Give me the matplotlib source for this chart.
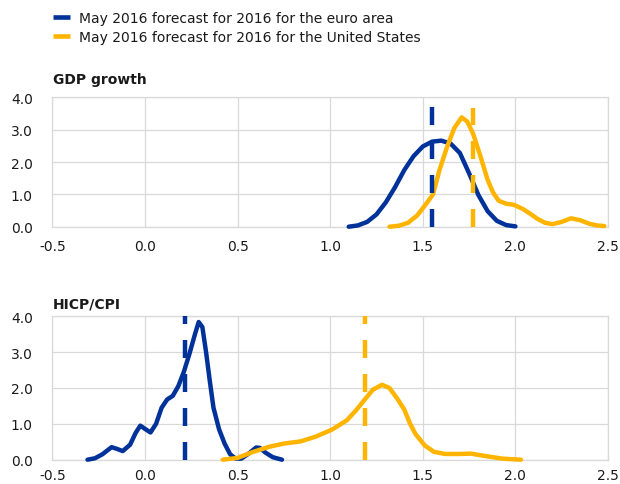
"""May 2016 forecast distributions for 2016: euro area vs United States.

Two stacked density panels (GDP growth, HICP/CPI) with the forecast
means drawn as dashed vertical lines.
"""

import matplotlib

matplotlib.use("Agg")

import matplotlib.pyplot as plt
from matplotlib.lines import Line2D


OUTPUT_PATH = "out.png"

BLUE = "#003299"
YELLOW = "#FFB400"
GRID = "#d9d9d9"
TEXT = "#1a1a1a"

LEGEND_LABELS = [
    "May 2016 forecast for 2016 for the euro area",
    "May 2016 forecast for 2016 for the United States",
]

X_TICKS = [-0.5, 0.0, 0.5, 1.0, 1.5, 2.0, 2.5]
Y_TICKS = [0.0, 1.0, 2.0, 3.0, 4.0]

# GDP growth, euro area
gdp_ea_x = [1.10, 1.15, 1.20, 1.25, 1.30, 1.35, 1.40, 1.45, 1.50, 1.55,
            1.60, 1.65, 1.70, 1.75, 1.80, 1.85, 1.90, 1.95, 2.00]
gdp_ea_y = [0.00, 0.04, 0.15, 0.38, 0.75, 1.22, 1.75, 2.18, 2.48, 2.63,
            2.66, 2.57, 2.28, 1.65, 0.98, 0.48, 0.18, 0.05, 0.01]

# GDP growth, United States
gdp_us_x = [1.32, 1.37, 1.42, 1.47, 1.52, 1.555, 1.59, 1.63, 1.67, 1.71,
            1.74, 1.77, 1.81, 1.85, 1.88, 1.91, 1.95, 1.99, 2.04, 2.08,
            2.12, 2.16, 2.20, 2.25, 2.30, 2.35, 2.40, 2.44, 2.48]
gdp_us_y = [0.00, 0.03, 0.12, 0.35, 0.72, 1.00, 1.75, 2.45, 3.05, 3.38,
            3.25, 2.90, 2.20, 1.45, 1.05, 0.80, 0.71, 0.68, 0.55, 0.40,
            0.24, 0.12, 0.08, 0.15, 0.26, 0.20, 0.09, 0.04, 0.02]

# HICP, euro area
hicp_ea_x = [-0.31, -0.27, -0.23, -0.18, -0.15, -0.12, -0.08, -0.05, -0.025, 0.00,
             0.03, 0.06, 0.09, 0.12, 0.15, 0.18, 0.21, 0.24, 0.27, 0.29,
             0.31, 0.33, 0.35, 0.37, 0.40, 0.43, 0.46, 0.49, 0.52, 0.56,
             0.60, 0.62, 0.65, 0.69, 0.74]
hicp_ea_y = [0.00, 0.04, 0.15, 0.35, 0.30, 0.24, 0.42, 0.75, 0.95, 0.86,
             0.76, 1.00, 1.45, 1.68, 1.78, 2.05, 2.45, 2.95, 3.50, 3.84,
             3.70, 3.00, 2.20, 1.45, 0.85, 0.45, 0.15, 0.03, 0.03, 0.17,
             0.34, 0.33, 0.20, 0.07, 0.00]

# CPI, United States
cpi_us_x = [0.42, 0.50, 0.58, 0.67, 0.75, 0.84, 0.92, 1.01, 1.09, 1.14,
            1.19, 1.23, 1.28, 1.32, 1.36, 1.40, 1.43, 1.46, 1.51, 1.56,
            1.62, 1.70, 1.76, 1.84, 1.93, 2.03]
cpi_us_y = [0.00, 0.05, 0.21, 0.36, 0.45, 0.51, 0.64, 0.84, 1.10, 1.38,
            1.70, 1.95, 2.09, 2.00, 1.72, 1.40, 1.02, 0.72, 0.40, 0.22,
            0.16, 0.16, 0.17, 0.10, 0.03, 0.00]

# forecast means (x) and how high each dashed marker reaches (y)
gdp_forecast = {"ea": (1.55, 3.76), "us": (1.77, 3.66)}
hicp_forecast = {"ea": (0.215, 4.0), "us": (1.19, 4.0)}

CURVE_LW = 3.2
DASHES = (0, (4.05, 3.6))


def _style_axes(ax, xpad: float) -> None:
    """Excel-like look: light grid on every tick, no tick marks."""
    ax.set_xlim(-0.5, 2.5)
    ax.set_ylim(0, 4)
    ax.set_xticks(X_TICKS, labels=[f"{v:.1f}" for v in X_TICKS])
    ax.set_yticks(Y_TICKS, labels=[f"{v:.1f}" for v in Y_TICKS])
    ax.tick_params(length=0, labelsize=10, colors=TEXT)
    ax.tick_params(axis="y", pad=14)
    ax.tick_params(axis="x", pad=xpad)
    ax.grid(True, color=GRID, linewidth=0.9)
    ax.set_axisbelow(True)
    for spine in ax.spines.values():
        spine.set_color(GRID)
        spine.set_linewidth(0.9)


def _draw_panel(ax, ea_x, ea_y, us_x, us_y, forecast) -> None:
    ax.plot(ea_x, ea_y, color=BLUE, lw=CURVE_LW, solid_capstyle="round",
            solid_joinstyle="round", clip_on=False, zorder=3)
    ax.plot(us_x, us_y, color=YELLOW, lw=CURVE_LW, solid_capstyle="round",
            solid_joinstyle="round", clip_on=False, zorder=3)
    for key, color in (("ea", BLUE), ("us", YELLOW)):
        x, top = forecast[key]
        ax.plot([x, x], [0, top], color=color, lw=CURVE_LW, linestyle=DASHES,
                clip_on=False, zorder=4)


def main() -> None:
    plt.rcParams["font.family"] = ["DejaVu Sans"]

    fig = plt.figure(figsize=(6.2, 4.85), dpi=100)
    ax_gdp = fig.add_axes([0.0844, 0.5305, 0.8963, 0.2668])
    ax_cpi = fig.add_axes([0.0844, 0.0501, 0.8963, 0.2957])

    _style_axes(ax_gdp, xpad=9)
    _style_axes(ax_cpi, xpad=6)
    _draw_panel(ax_gdp, gdp_ea_x, gdp_ea_y, gdp_us_x, gdp_us_y, gdp_forecast)
    _draw_panel(ax_cpi, hicp_ea_x, hicp_ea_y, cpi_us_x, cpi_us_y, hicp_forecast)

    fig.text(0.0848, 1 - 80 / 485, "GDP growth", fontsize=10, weight="bold",
             color=TEXT, va="center", ha="left")
    fig.text(0.0848, 1 - 304 / 485, "HICP/CPI", fontsize=10, weight="bold",
             color=TEXT, va="center", ha="left")

    handles = [
        Line2D([], [], color=BLUE, lw=3.3, solid_capstyle="butt"),
        Line2D([], [], color=YELLOW, lw=3.3, solid_capstyle="butt"),
    ]
    fig.legend(handles, LEGEND_LABELS, loc="upper left",
               bbox_to_anchor=(52.7 / 620, 1 - 12 / 485), frameon=False,
               fontsize=10, handlelength=1.22, handletextpad=0.7,
               labelspacing=0.35, borderpad=0, borderaxespad=0,
               labelcolor=TEXT)

    fig.savefig(OUTPUT_PATH, dpi=100)
    plt.close(fig)


if __name__ == "__main__":
    main()
